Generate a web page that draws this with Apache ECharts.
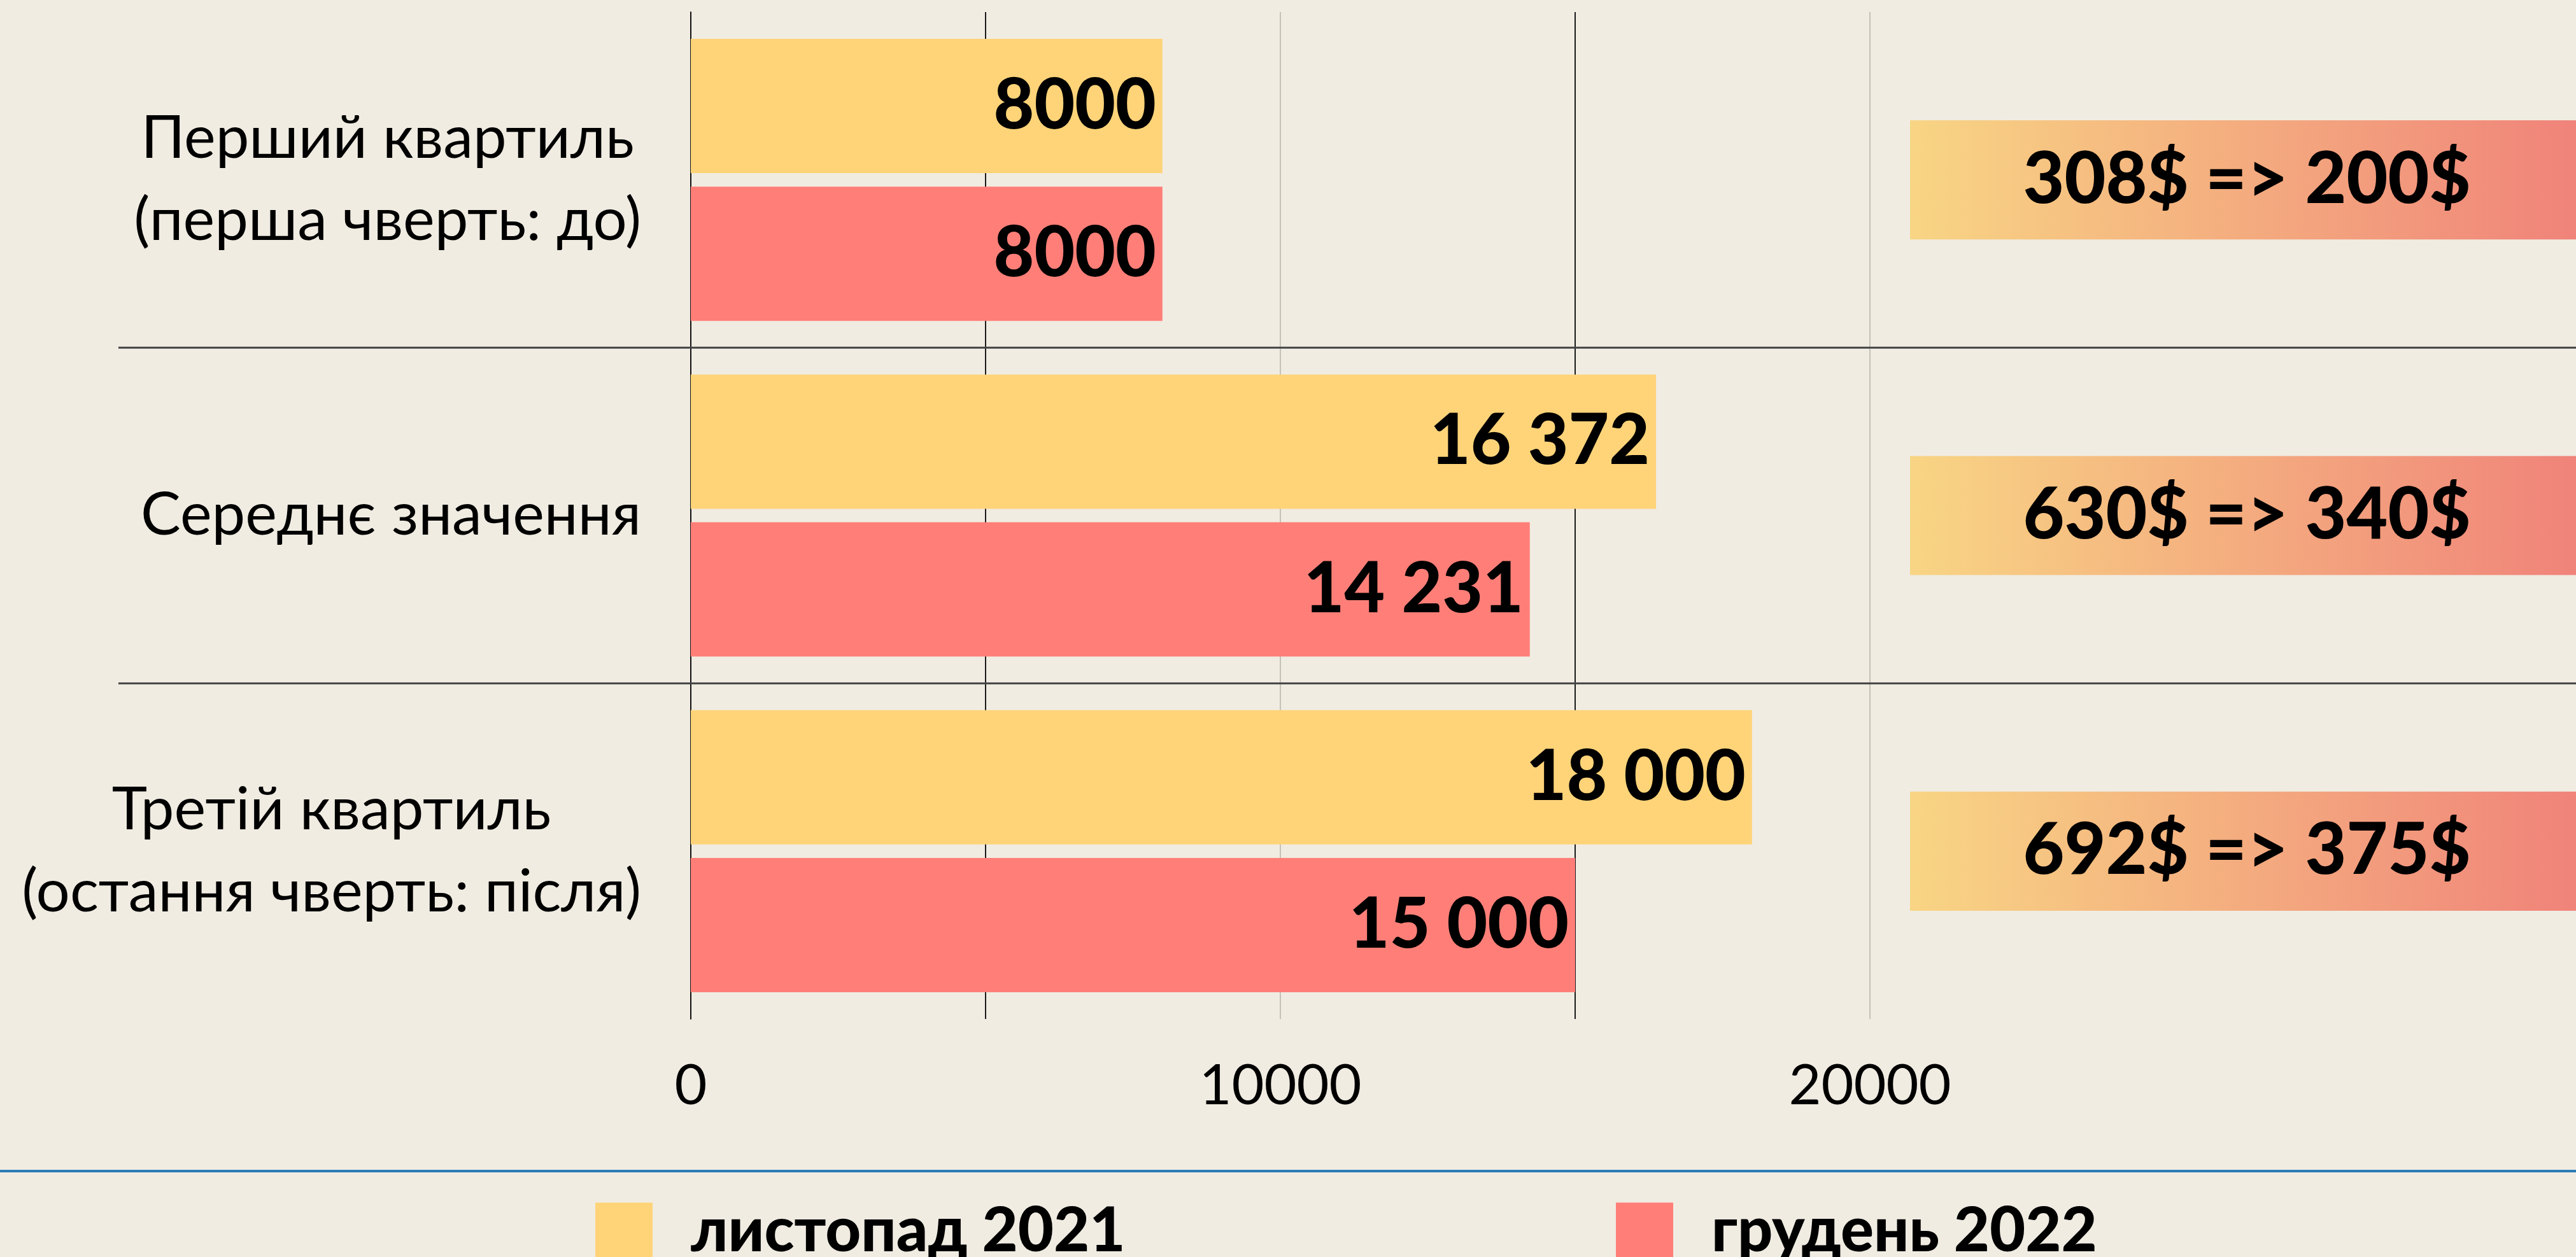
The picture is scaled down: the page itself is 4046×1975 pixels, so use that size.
<!DOCTYPE html>
<html>
<head>
<meta charset="utf-8">
<title>Квартилі</title>
<script src="https://cdn.jsdelivr.net/npm/echarts@6/dist/echarts.min.js"></script>
<style>
  html, body { margin: 0; padding: 0; background: #f0ece2; }
  #chart { width: 4046px; height: 1975px; }
</style>
</head>
<body>
<div id="chart"></div>
<script>
const categories = [
  ['Перший квартиль', '(перша чверть: до)'],
  ['Середнє значення'],
  ['Третій квартиль', '(остання чверть: після)']
]
const seriesNames = ['листопад 2021', 'грудень 2022']
const nov2021 = [8000, 16372, 18000]
const dec2022 = [8000, 14231, 15000]
const priceNotes = ['308$ => 200$', '630$ => 340$', '692$ => 375$']
const xTicks = [0, 10000, 20000]

const FONT = 'Lato, "Noto Sans", sans-serif'

function fmtValue(v) {
  // 4-digit numbers stay as is, bigger ones get a space separator
  if (v < 10000) return String(v)
  return String(v).replace(/\B(?=(\d{3})+(?!\d))/g, ' ')
}

const chart = echarts.init(document.getElementById('chart'))

const barLabel = {
  show: true,
  position: 'insideRight',
  distance: 10,
  color: '#000',
  fontFamily: FONT,
  fontWeight: 900,
  fontSize: 110,
  formatter: p => fmtValue(p.value)
}

const legendText = { fontFamily: FONT, fontWeight: 900, fontSize: 97, color: '#000', padding: [0, 0, 0, 55] }

const option = {
  backgroundColor: '#f0ece2',
  animation: false,
  grid: { left: 1085, right: 1109, top: 19, bottom: 374 },
  legend: [
    {
      left: 930, top: 1881,
      data: [seriesNames[0]],
      itemWidth: 90, itemHeight: 90,
      icon: 'rect',
      textStyle: legendText
    },
    {
      left: 2533, top: 1881,
      data: [seriesNames[1]],
      itemWidth: 90, itemHeight: 90,
      icon: 'rect',
      textStyle: legendText
    }
  ],
  xAxis: {
    type: 'value',
    min: 0,
    max: 20000,
    interval: 5000,
    axisLine: { show: false },
    axisTick: { show: false },
    axisLabel: {
      margin: 62,
      color: '#000',
      fontFamily: FONT,
      fontSize: 88,
      formatter: v => (xTicks.indexOf(v) >= 0 ? String(v) : '')
    },
    splitLine: {
      show: true,
      lineStyle: { color: ['#c4c1ba', '#1a1a1a'], width: 2 }
    }
  },
  yAxis: {
    type: 'category',
    inverse: true,
    data: categories.map(c => c.join('\n')),
    axisLine: { show: true, lineStyle: { color: '#111', width: 2 } },
    axisTick: { show: false },
    splitLine: { show: false },
    axisLabel: {
      margin: 78,
      formatter: (v, i) => categories[i].map(l => '{a|' + l + '}').join('\n'),
      rich: {
        a: { align: 'center', fontFamily: FONT, fontSize: 94, lineHeight: 129, color: '#000' }
      }
    }
  },
  series: [
    {
      name: seriesNames[0],
      type: 'bar',
      data: nov2021,
      barWidth: 211,
      barGap: '10%',
      itemStyle: { color: '#ffd479' },
      label: barLabel
    },
    {
      name: seriesNames[1],
      type: 'bar',
      data: dec2022,
      barWidth: 211,
      barGap: '10%',
      itemStyle: { color: '#ff7f78' },
      label: barLabel
    },
    {
      // price notes on the right
      type: 'custom',
      clip: false,
      silent: true,
      data: priceNotes.map((t, i) => [0, i]),
      renderItem: (params, api) => {
        const y = api.coord([0, api.value(1)])[1]
        const h = api.size([0, 1])[1] * 0.355
        const x0 = 3000
        const x1 = api.getWidth()
        return {
          type: 'group',
          children: [
            {
              type: 'rect',
              shape: { x: x0, y: y - h / 2, width: x1 - x0, height: h },
              style: {
                fill: new echarts.graphic.LinearGradient(0, 0, 1, 0, [
                  { offset: 0, color: '#f8d584' },
                  { offset: 1, color: '#f0837a' }
                ])
              }
            },
            {
              type: 'text',
              x: (x0 + x1) / 2 + 6,
              y: y,
              style: {
                text: priceNotes[params.dataIndex],
                align: 'center',
                verticalAlign: 'middle',
                fontFamily: FONT,
                fontWeight: 900,
                fontSize: 112,
                fill: '#000'
              }
            }
          ]
        }
      }
    }
  ]
}

chart.setOption(option)

// separators between categories and the blue rule above the legend
const sep = []
for (let i = 0; i < categories.length - 1; i++) {
  const y = (chart.convertToPixel({ yAxisIndex: 0 }, i) + chart.convertToPixel({ yAxisIndex: 0 }, i + 1)) / 2
  sep.push({
    type: 'line',
    shape: { x1: 186, y1: y, x2: 4046, y2: y },
    style: { stroke: '#444', lineWidth: 3 },
    z: 1
  })
}
sep.push({
  type: 'line',
  shape: { x1: 0, y1: 1840, x2: 4046, y2: 1840 },
  style: { stroke: '#2b7bb6', lineWidth: 4 }
})
chart.setOption({ graphic: sep })
</script>
</body>
</html>
